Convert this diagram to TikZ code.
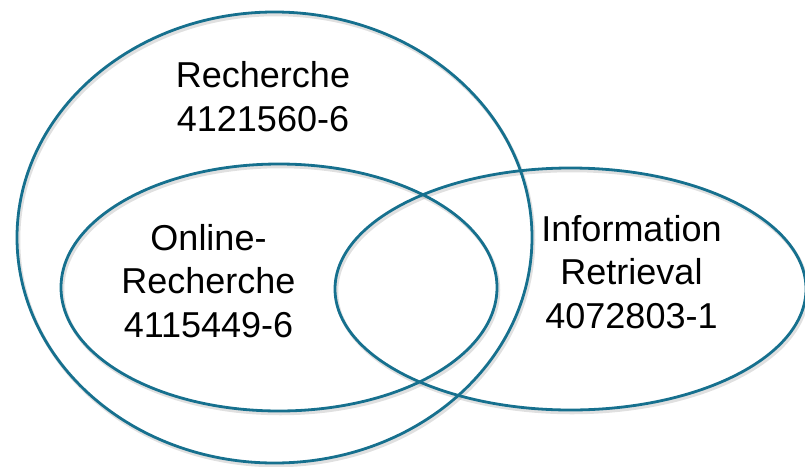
\documentclass[tikz,border=0pt]{standalone}
\usepackage{fontspec}
\setmainfont{Liberation Sans}
\usetikzlibrary{shapes.geometric}
\definecolor{ring}{RGB}{22,112,142}
\tikzset{
  venn/.style={ellipse, draw=ring, line width=2.8pt, inner sep=0pt},
  vshadow/.style={ellipse, draw=black!40, opacity=0.3, line width=3.5pt, inner sep=0pt},
  lbl/.style={align=center, font=\fontsize{36}{43.5}\selectfont, inner sep=0pt, anchor=base}
}
\begin{document}
\begin{tikzpicture}[x=1pt,y=-1pt]
\useasboundingbox (0,0) rectangle (805,466);
% soft shadows
\node[vshadow, minimum width=515pt, minimum height=451pt] at (276,240) {};
\node[vshadow, minimum width=436pt, minimum height=247pt] at (280.5,290) {};
\node[vshadow, minimum width=471pt, minimum height=242pt] at (572,291.5) {};
% ellipses
\node[venn, minimum width=515pt, minimum height=451pt] (big) at (274.5,237.5) {};
\node[venn, minimum width=436pt, minimum height=247pt] (online) at (279,287.5) {};
\node[venn, minimum width=471pt, minimum height=242pt] (ir) at (570.5,289) {};
% labels (anchor = baseline of last line)
\node[lbl] (tbig) at (263,131) {Recherche\\4121560-6};
\node[lbl] (tonline) at (208.5,337) {Online-\\Recherche\\4115449-6};
\node[lbl] (tir) at (631.5,328) {Information\\Retrieval\\4072803-1};
\end{tikzpicture}
\end{document}
